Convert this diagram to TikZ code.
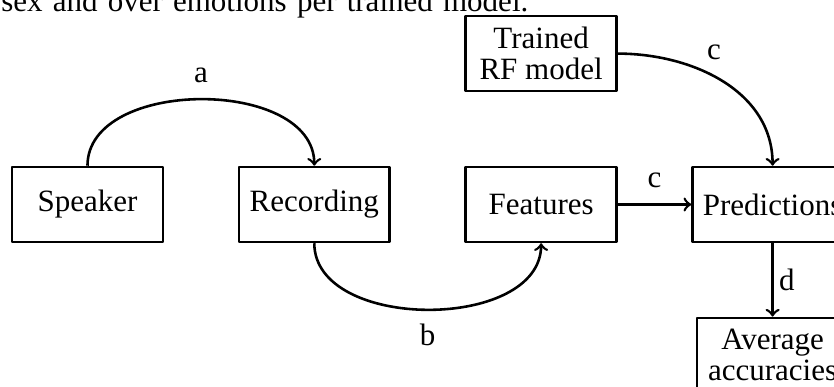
\documentclass[tikz,border=0pt,12pt]{standalone}
\usepackage{fontspec}
\setmainfont{Liberation Serif}
\usetikzlibrary{positioning}

\begin{document}
\begin{tikzpicture}[line join=round, line width=1pt, node distance=28.4pt,
	box/.style={draw, minimum width=58.4pt, minimum height=29pt, inner ysep=2pt, align=center}]
			\clip (0,0) rectangle (11.346,5.265);
			
			% last line of the paragraph above
			\node[anchor=base west, inner sep=0] (caption) at (0,5.115)
				{\makebox[204pt][s]{sex and over emotions per trained model.}};
			
			% --- pipeline boxes ---
			\node[box] (speaker) at (1.19,2.483) {Speaker};
			\node[box, right=of speaker] (recording) {Recording};
			\node[box, right=of recording] (features) {Features};
			\node[box, right=of features] (predictions) {Predictions};
			\node[box, above=of features] (trained) {Trained\\[-2.5pt]RF model};
			\node[box, below=of predictions] (average) {Average\\[-2.5pt]accuracies};
			
			% --- steps ---
			\draw[->] (speaker.north) to[bend left=90] node[midway, above=2pt] {a} (recording.north);
			\draw[->] (recording.south) to[bend right=90] node[midway, below=1pt] {b} (features.south);
			\draw[->] (features) -- node[above=2pt] {c} (predictions);
			\draw[->] (trained.east) to[out=0, in=90] node[pos=0.45, above=2pt] {c} (predictions.north);
			\draw[->] (predictions) -- node[right, xshift=-2pt] {d} (average);
		\end{tikzpicture}
\end{document}
